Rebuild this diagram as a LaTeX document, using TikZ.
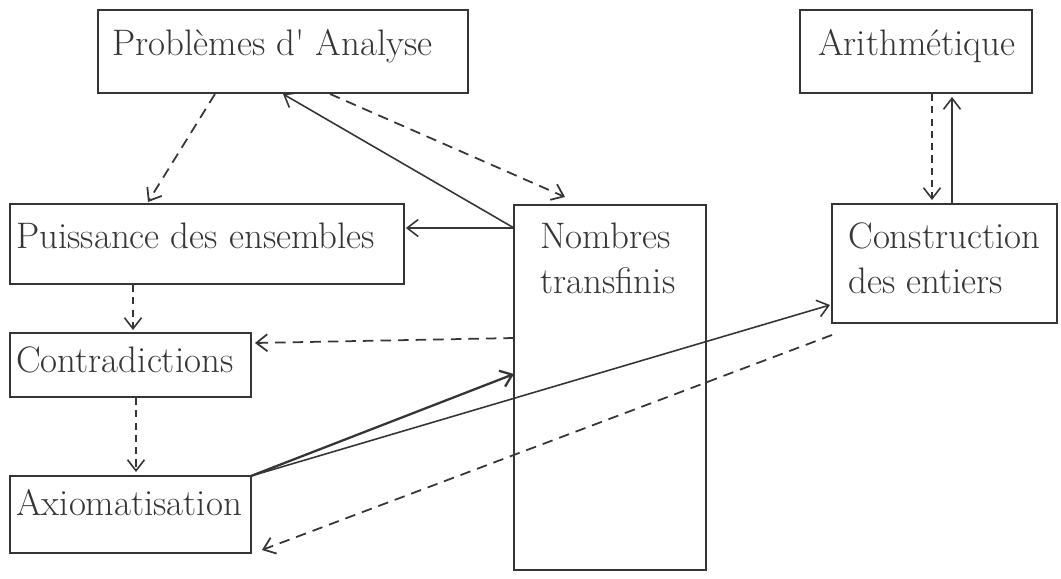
\documentclass[tikz,border=0pt]{standalone}
\usetikzlibrary{arrows.meta,calc}
\definecolor{ink}{HTML}{353535}
\tikzset{
  box/.style={draw=ink, line width=1.3pt, inner sep=0pt, outer sep=0pt, anchor=north west},
  lbl/.style={text=ink, inner sep=0pt, anchor=base west, font=\fontsize{21}{27}\selectfont, align=left},
  conn/.style={draw=ink, line width=0.9pt, -{Straight Barb[length=2.2mm,width=3.4mm]}},
  dconn/.style={conn, line width=1pt, dash pattern=on 6pt off 4pt},
  sdconn/.style={conn, dash pattern=on 4pt off 3pt},
}
\begin{document}
\begin{tikzpicture}[x=0.02cm,y=-0.02cm]
\useasboundingbox (0,0) rectangle (1061,578);
% boxes
\node[box, minimum width=7.40cm, minimum height=1.66cm] (pa) at (98,10) {};
\node[box, minimum width=4.64cm, minimum height=1.66cm] (ar) at (800,10) {};
\node[box, minimum width=7.88cm, minimum height=1.60cm] (pu) at (10,204) {};
\node[box, minimum width=3.84cm, minimum height=7.30cm] (nt) at (514,205) {};
\node[box, minimum width=4.50cm, minimum height=2.38cm] (ce) at (832,204) {};
\node[box, minimum width=4.82cm, minimum height=1.28cm] (co) at (10,333) {};
\node[box, minimum width=4.82cm, minimum height=1.54cm] (ax) at (10,476) {};
% labels
\node[lbl] (pat) at (112,55) {Problèmes d\textquotesingle{} Analyse};
\node[lbl] (art) at (818,55) {Arithmétique};
\node[lbl] (put) at (16,248) {Puissance des ensembles};
\node[lbl] (ntt) at (540,248) {Nombres};
\node[lbl] (ntt2) at (540,293) {transfinis};
\node[lbl] (cet) at (848,248) {Construction};
\node[lbl] (cet2) at (848,293) {des entiers};
\node[lbl] (cot) at (16,372) {Contradictions};
\node[lbl] (axt) at (16,515) {Axiomatisation};
% connectors
\draw[dconn] ($(pa.south west)+(117,1)$) -- ($(pu.north west)+(138,-2)$);
\draw[conn] ($(nt.north west)+(0,23)$) -- ($(pu.north east)+(2,24)$);
\draw[conn] ($(nt.north west)+(0,23)$) -- ($(pa.south west)+(185,1)$);
\draw[dconn] ($(pa.south west)+(232,1)$) -- ($(nt.north west)+(51,-8)$);
\draw[sdconn] ($(pu.south west)+(123,1)$) -- ($(co.north west)+(123,-3)$);
\draw[dconn] ($(nt.north west)+(0,133)$) -- ($(co.north east)+(4,10)$);
\draw[sdconn] ($(co.south west)+(126,1)$) -- ($(ax.north west)+(126,-4)$);
\draw[conn, line width=1.3pt] (ax.north east) -- ($(nt.north west)+(0,169)$);
\draw[conn] (ax.north east) -- ($(ce.south west)+(-2,-18)$);
\draw[dconn] ($(ce.south west)+(0,12)$) -- ($(ax.south east)+(11,-3)$);
\draw[sdconn] ($(ar.south west)+(132,1)$) -- ($(ce.north west)+(100,-4)$);
\draw[conn] ($(ce.north west)+(120,0)$) -- ($(ar.south west)+(152,4)$);
\end{tikzpicture}
\end{document}
